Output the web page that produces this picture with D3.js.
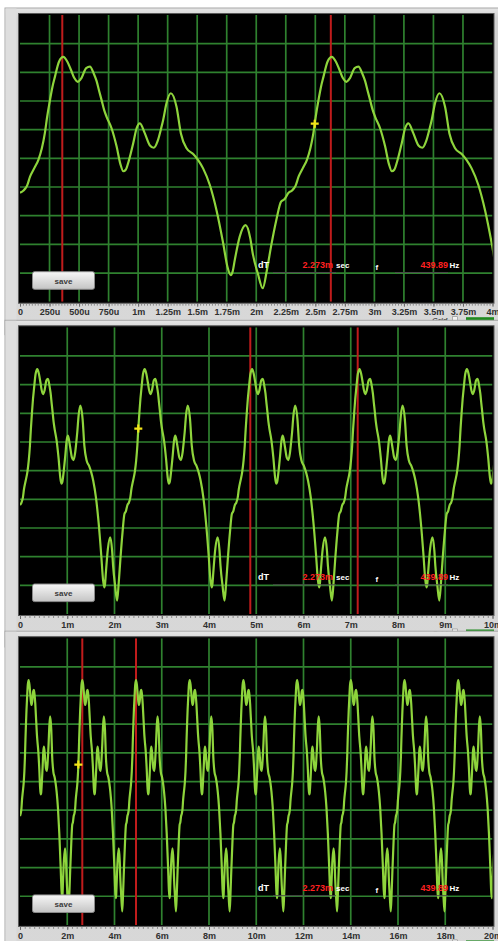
<!DOCTYPE html>
<html>
<head>
<meta charset="utf-8">
<script src="https://cdn.jsdelivr.net/npm/d3@7"></script>
<style>
  html, body { margin: 0; padding: 0; background: #ffffff; }
  svg { display: block; font-family: "Liberation Sans", Arial, sans-serif; }
</style>
</head>
<body>
<svg id="scope" width="498" height="941"></svg>
<script>
// One cycle of the captured waveform: time inside the cycle (ms) and level (divisions, + is up)
const cycleTimeMs = [0.000, 0.030, 0.060, 0.085, 0.120, 0.155, 0.185, 0.210, 0.230, 0.254,
  0.275, 0.296, 0.330, 0.366, 0.400, 0.430, 0.460, 0.490, 0.520, 0.560,
  0.592, 0.625, 0.648, 0.670, 0.690, 0.712, 0.733, 0.775, 0.818, 0.850,
  0.875, 0.895, 0.920, 0.958, 0.987, 1.015, 1.057, 1.100, 1.133, 1.165,
  1.195, 1.212, 1.240, 1.277, 1.325, 1.362, 1.410, 1.466, 1.508, 1.550,
  1.607, 1.663, 1.720, 1.756, 1.784, 1.800, 1.818, 1.860, 1.910, 1.950,
  1.970, 2.013, 2.055, 2.090, 2.125, 2.170, 2.210, 2.240];
const cycleLevel = [-1.20, -1.12, -0.95, -0.64, -0.35, -0.06, 0.35, 0.87, 1.45, 2.04,
  2.50, 2.85, 3.37, 3.54, 3.38, 3.10, 2.80, 2.67, 2.80, 3.15,
  3.20, 2.95, 2.70, 2.35, 2.04, 1.69, 1.45, 1.05, 0.41, -0.20,
  -0.45, -0.40, -0.10, 0.52, 1.05, 1.22, 0.87, 0.45, 0.37, 0.60,
  1.05, 1.34, 1.92, 2.27, 1.80, 0.87, 0.35, 0.15, -0.06, -0.35,
  -0.93, -1.80, -2.96, -3.78, -4.07, -3.95, -3.55, -2.73, -2.33, -2.80,
  -3.31, -4.01, -4.53, -3.90, -3.08, -2.15, -1.51, -1.42];

// Measured frequency shown in the readout; the cursor spacing is one period
const freqHz = 439.89;

// Time base of each of the three views
const spanMs = [4, 10, 20];
const tickStepMs = [0.25, 1, 2];
const minorStepMs = [0.025, 0.1, 0.2];
const tickLabels = [
  ["0", "250u", "500u", "750u", "1m", "1.25m", "1.5m", "1.75m", "2m", "2.25m", "2.5m", "2.75m", "3m", "3.25m", "3.5m", "3.75m", "4m"],
  ["0", "1m", "2m", "3m", "4m", "5m", "6m", "7m", "8m", "9m", "10m"],
  ["0", "2m", "4m", "6m", "8m", "10m", "12m", "14m", "16m", "18m", "20m"]
];
// First cursor of each view (ms) and the trace marker position (ms)
const cursorAMs = [0.358, 4.874, 2.637];
const markerMs = [2.495, 2.504, 2.470];

const periodMs = 1000 / freqHz;
const svg = d3.select("#scope");

const layout = { left: 20, right: 492.5, plotH: 286.7, tops: [15, 327.3, 638.2] };
const plotW = layout.right - layout.left;

// Level at any time
function levelAt(tMs) {
  let u = tMs % periodMs;
  if (u < 0) u += periodMs;
  const ts = cycleTimeMs.concat([periodMs]);
  const vs = cycleLevel.concat([cycleLevel[0]]);
  const i = Math.max(1, d3.bisectLeft(ts, u));
  const f = (u - ts[i - 1]) / (ts[i] - ts[i - 1]);
  return vs[i - 1] + f * (vs[i] - vs[i - 1]);
}

const defs = svg.append("defs");
const btnGrad = defs.append("linearGradient").attr("id", "btnGrad").attr("x1", 0).attr("x2", 0).attr("y1", 0).attr("y2", 1);
btnGrad.append("stop").attr("offset", "0%").attr("stop-color", "#f7f7f7");
btnGrad.append("stop").attr("offset", "100%").attr("stop-color", "#c4c4c4");
const frameGrad = defs.append("linearGradient").attr("id", "frameGrad").attr("x1", 0).attr("x2", 0).attr("y1", 0).attr("y2", 1);
frameGrad.append("stop").attr("offset", "0%").attr("stop-color", "#e6e6e6");
frameGrad.append("stop").attr("offset", "3%").attr("stop-color", "#d2d2d2");
frameGrad.append("stop").attr("offset", "100%").attr("stop-color", "#d8d8d8");

spanMs.forEach((span, p) => {
  const top = layout.tops[p];
  const bottom = top + layout.plotH;
  const g = svg.append("g");

  const x = d3.scaleLinear().domain([0, span]).range([layout.left, layout.right]);
  const y = d3.scaleLinear().domain([-5, 5]).range([bottom, top]);

  // panel frame
  g.append("rect").attr("x", 5).attr("y", top - 7).attr("width", 500).attr("height", layout.plotH + 40)
    .attr("fill", "url(#frameGrad)").attr("stroke", "#a8a8a8").attr("stroke-width", 1);
  g.append("rect").attr("x", 5.5).attr("y", top - 6.5).attr("width", 11).attr("height", layout.plotH + 39)
    .attr("fill", "#dedede");
  g.append("rect").attr("x", layout.left - 1.5).attr("y", top - 1.5).attr("width", plotW + 3).attr("height", layout.plotH + 3)
    .attr("fill", "#000").attr("stroke", "#5a5a5a").attr("stroke-width", 1);

  const clipId = "clip" + p;
  defs.append("clipPath").attr("id", clipId).append("rect")
    .attr("x", layout.left).attr("y", top).attr("width", plotW).attr("height", layout.plotH);
  const plot = g.append("g").attr("clip-path", `url(#${clipId})`);

  // grid
  const majors = d3.range(0, span + 1e-9, tickStepMs[p]);
  plot.append("g").selectAll("line").data(majors.slice(1, -1)).join("line")
    .attr("x1", d => x(d)).attr("x2", d => x(d)).attr("y1", top).attr("y2", bottom)
    .attr("stroke", "#2f812f").attr("stroke-width", 1.7);
  plot.append("g").selectAll("line").data(d3.range(-4, 5)).join("line")
    .attr("x1", layout.left).attr("x2", layout.right).attr("y1", d => y(d)).attr("y2", d => y(d))
    .attr("stroke", "#2f812f").attr("stroke-width", 1.7);

  // cursors
  const cursors = [cursorAMs[p], cursorAMs[p] + periodMs];
  plot.append("g").selectAll("line").data(cursors).join("line")
    .attr("x1", d => x(d)).attr("x2", d => x(d)).attr("y1", top).attr("y2", bottom)
    .attr("stroke", "#c01c1c").attr("stroke-width", 2);

  // trace: the cycle table repeated at the measured period
  const pts = [];
  for (let k = 0; k * periodMs <= span + periodMs; k++) {
    cycleTimeMs.forEach((t, i) => pts.push([t + k * periodMs, cycleLevel[i]]));
  }
  const line = d3.line().x(d => x(d[0])).y(d => y(d[1])).curve(d3.curveMonotoneX);
  plot.append("path").datum(pts).attr("d", line)
    .attr("fill", "none").attr("stroke", "#8ed43c").attr("stroke-width", 2.2)
    .attr("stroke-linejoin", "round");

  // trace marker
  const mx = x(markerMs[p]), my = y(levelAt(markerMs[p]));
  plot.append("path").attr("d", `M${mx - 4},${my}H${mx + 4}M${mx},${my - 4}V${my + 4}`)
    .attr("stroke", "#f2e418").attr("stroke-width", 2.2);

  // readouts
  const ry = top + 253;
  const ro = g.append("g").attr("font-weight", "bold");
  ro.append("line").attr("x1", 273).attr("x2", 336).attr("y1", ry + 4.5).attr("y2", ry + 4.5).attr("stroke", "#4a4a4a").attr("stroke-width", 1);
  ro.append("line").attr("x1", 395).attr("x2", 448).attr("y1", ry + 4.5).attr("y2", ry + 4.5).attr("stroke", "#4a4a4a").attr("stroke-width", 1);
  ro.append("text").attr("x", 258).attr("y", ry).attr("fill", "#fff").attr("font-size", 9).text("dT");
  ro.append("text").attr("x", 333).attr("y", ry).attr("text-anchor", "end").attr("fill", "#ff2020").attr("font-size", 9)
    .text(d3.format(".4~")(periodMs) + "m");
  ro.append("text").attr("x", 336).attr("y", ry).attr("fill", "#fff").attr("font-size", 8).text("sec");
  ro.append("text").attr("x", 375.5).attr("y", ry + 2).attr("fill", "#fff").attr("font-size", 8).text("f");
  ro.append("text").attr("x", 448).attr("y", ry).attr("text-anchor", "end").attr("fill", "#ff2020").attr("font-size", 9)
    .text(d3.format(".2f")(freqHz));
  ro.append("text").attr("x", 449.5).attr("y", ry).attr("fill", "#fff").attr("font-size", 8).text("Hz");

  // save button
  const by = top + 256.7;
  g.append("rect").attr("x", 32.5).attr("y", by).attr("width", 62).attr("height", 17.6).attr("rx", 2)
    .attr("fill", "url(#btnGrad)").attr("stroke", "#8a8a8a").attr("stroke-width", 1);
  g.append("text").attr("x", 63.5).attr("y", by + 11.8).attr("text-anchor", "middle")
    .attr("font-size", 8).attr("font-weight", "bold").attr("fill", "#3a3a3a").text("save");

  // time axis
  const minorAxis = d3.axisBottom(x).tickValues(d3.range(0, span + 1e-9, minorStepMs[p])).tickSize(2.5).tickFormat("");
  const ma = g.append("g").attr("transform", `translate(0,${bottom + 1.5})`).call(minorAxis);
  ma.select(".domain").remove();
  ma.selectAll("line").attr("stroke", "#777").attr("stroke-width", 0.8);

  const axis = d3.axisBottom(x).tickValues(majors).tickSize(3.5).tickPadding(2.4)
    .tickFormat((d, i) => tickLabels[p][i]);
  const ax = g.append("g").attr("transform", `translate(0,${bottom + 1.5})`).call(axis);
  ax.select(".domain").remove();
  ax.selectAll("line").attr("stroke", "#666").attr("stroke-width", 1);
  ax.selectAll("text").attr("font-size", 9).attr("font-weight", "bold").attr("fill", "#303030")
    .attr("font-family", "'Liberation Sans', Arial, sans-serif");

  // grid toggle (its lower part sits under the next panel)
  const gy = bottom + 15;
  if (gy + 6 < 941) {
    g.append("text").attr("x", 432).attr("y", gy + 6.5).attr("font-size", 7.5).attr("font-style", "italic")
      .attr("font-weight", "bold").attr("fill", "#444").text("Grid");
  }
  g.append("rect").attr("x", 452.5).attr("y", gy).attr("width", 5).attr("height", 5)
    .attr("fill", "#f4f4f4").attr("stroke", "#888").attr("stroke-width", 0.6);
  g.append("rect").attr("x", 466).attr("y", gy + 0.5).attr("width", 28).attr("height", 4.5).attr("fill", "#1f8a1f");
});
</script>
</body>
</html>
